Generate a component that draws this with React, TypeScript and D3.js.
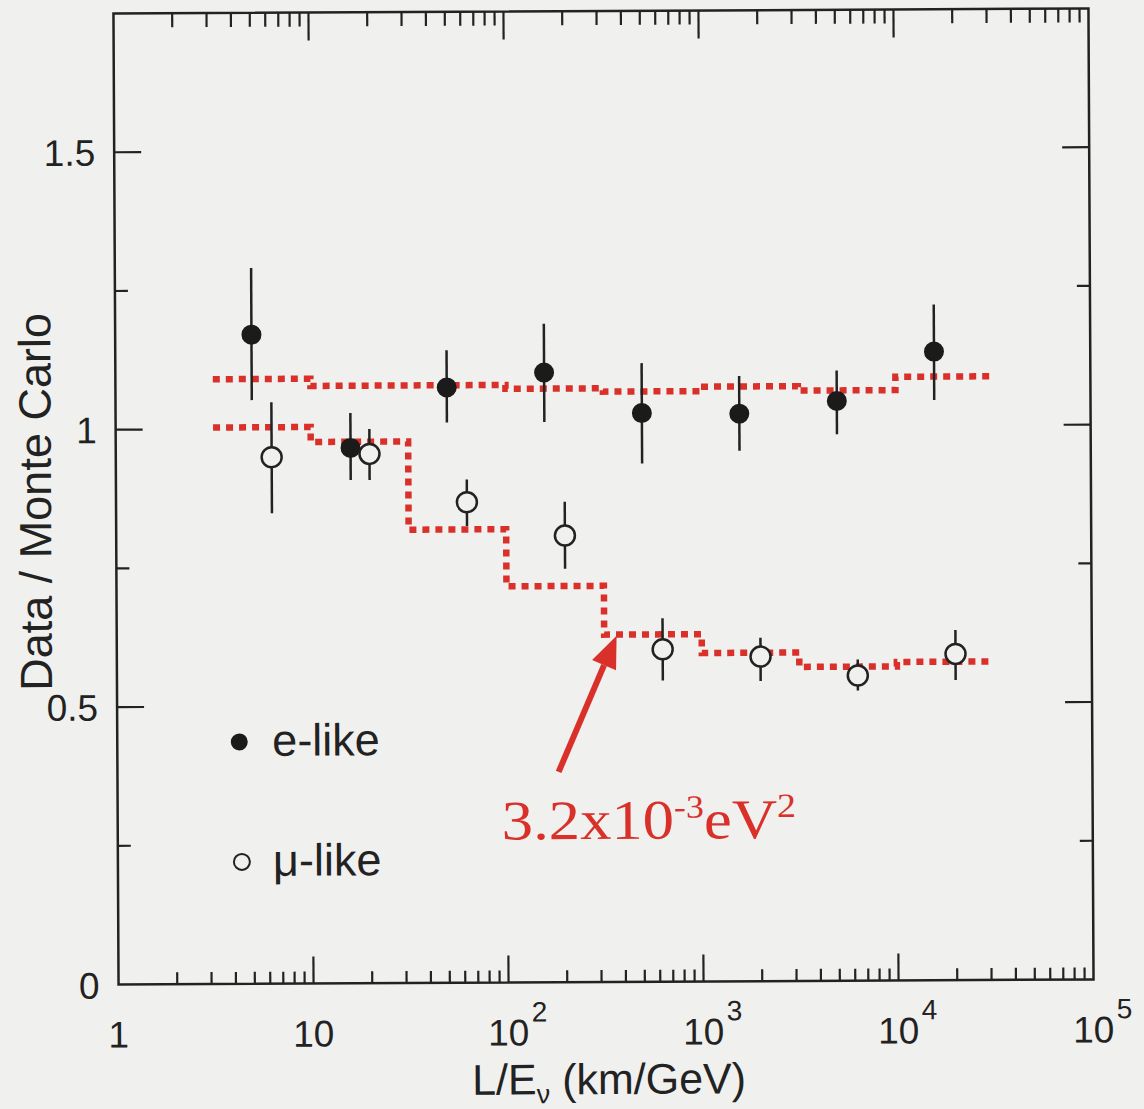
import React, { useRef, useEffect } from "react";
import * as d3 from "d3";

// e-like data: L/E bin centres (km/GeV), ratio and error bar ends
const eLikeLE = [5, 16, 50, 158, 500, 1580, 5000, 15800];
const eLikeVal = [1.17, 0.965, 1.073, 1.099, 1.025, 1.023, 1.045, 1.133];
const eLikeHi = [1.29, 1.028, 1.14, 1.187, 1.115, 1.091, 1.1, 1.218];
const eLikeLo = [1.052, 0.907, 1.01, 1.01, 0.934, 0.956, 0.985, 1.046];

// mu-like data
const muLikeLE = [6.3, 20, 63, 200, 630, 2000, 6300, 20000];
const muLikeVal = [0.949, 0.954, 0.866, 0.805, 0.599, 0.585, 0.55, 0.588];
const muLikeHi = [1.048, 0.999, 0.907, 0.866, 0.655, 0.619, 0.579, 0.631];
const muLikeLo = [0.848, 0.907, 0.823, 0.745, 0.543, 0.541, 0.523, 0.541];

// oscillated MC expectation, half-decade bins
const binEdges = [3.16, 10, 31.6, 100, 316, 1000, 3160, 10000, 31600];
const eLikeMC = [1.09, 1.077, 1.077, 1.07, 1.064, 1.072, 1.064, 1.088];
const muLikeMC = [1.003, 0.976, 0.817, 0.714, 0.626, 0.592, 0.566, 0.574];

const yTicks = [0.5, 1, 1.5];
const yTickLabels = ["0.5", "1", "1.5"];
const yMinorTicks = [0.25, 0.75, 1.25];
const xDecades = [1, 10, 100, 1000, 10000, 100000];
const xTickExps = ["", "", "2", "3", "4", "5"];

// annotation arrow, in data coords [L/E, ratio]
const arrowTail = [183, 0.379];
const arrowTip = [366, 0.624];

export default function App() {
  const svgRef = useRef<SVGSVGElement>(null);

  useEffect(() => {
    const W = 1144;
    const H = 1109;
    const bg = "#f0f0ee";
    const ink = "#222";
    const red = "#d9302a";
    const sans = "'Liberation Sans', Arial, Helvetica, sans-serif";

    const svg = d3.select(svgRef.current).attr("width", W).attr("height", H);
    svg.selectAll("*").remove();

    svg.append("rect").attr("width", W).attr("height", H).attr("fill", bg);

    //scales
    const x = d3.scaleLog().domain([1, 1e5]).range([116, 1091]);
    const y = d3.scaleLinear().domain([0, 1.75]).range([982, 11]);
    const [x0, x1] = x.range();
    const [yb, yt] = y.range();

    // the scan is a touch rotated
    const g = svg.append("g").attr("transform", "rotate(-0.3,603,497)");

    //frame
    g.append("rect")
      .attr("x", x0)
      .attr("y", yt)
      .attr("width", x1 - x0)
      .attr("height", yb - yt)
      .attr("fill", "none")
      .attr("stroke", ink)
      .attr("stroke-width", 2.5);

    //x ticks top and bottom
    const minorX: number[] = [];
    xDecades.slice(0, -1).forEach((d) => {
      for (let k = 2; k <= 9; k++) minorX.push(d * k);
    });
    const tickG = g.append("g").attr("stroke", ink).attr("stroke-width", 2.2);
    minorX.forEach((v) => {
      tickG.append("line").attr("x1", x(v)).attr("x2", x(v)).attr("y1", yb).attr("y2", yb - 12);
      tickG.append("line").attr("x1", x(v)).attr("x2", x(v)).attr("y1", yt).attr("y2", yt + 14);
    });
    xDecades.slice(1, -1).forEach((v) => {
      tickG.append("line").attr("x1", x(v)).attr("x2", x(v)).attr("y1", yb).attr("y2", yb - 27);
      tickG.append("line").attr("x1", x(v)).attr("x2", x(v)).attr("y1", yt).attr("y2", yt + 28);
    });

    //y ticks left and right
    yTicks.forEach((v) => {
      tickG.append("line").attr("x1", x0).attr("x2", x0 + 27).attr("y1", y(v)).attr("y2", y(v));
      tickG.append("line").attr("x1", x1).attr("x2", x1 - 27).attr("y1", y(v)).attr("y2", y(v));
    });
    yMinorTicks.forEach((v) => {
      tickG.append("line").attr("x1", x0).attr("x2", x0 + 13).attr("y1", y(v)).attr("y2", y(v));
      tickG.append("line").attr("x1", x1).attr("x2", x1 - 13).attr("y1", y(v)).attr("y2", y(v));
    });

    //tick labels
    const lab = g.append("g").attr("font-family", sans).attr("fill", ink);
    lab.append("text").attr("x", 97).attr("y", yb + 14).attr("text-anchor", "end").attr("font-size", 37).text("0");
    yTicks.forEach((v, i) => {
      lab.append("text")
        .attr("x", 97)
        .attr("y", y(v))
        .attr("dy", "0.36em")
        .attr("text-anchor", "end")
        .attr("font-size", 37)
        .text(yTickLabels[i]);
    });
    xDecades.forEach((v, i) => {
      const base = i === 0 ? "1" : "10";
      lab.append("text")
        .attr("x", x(v))
        .attr("y", 1045)
        .attr("text-anchor", "middle")
        .attr("font-size", 37)
        .text(base);
      if (xTickExps[i]) {
        lab.append("text")
          .attr("x", x(v) + 23)
          .attr("y", 1021)
          .attr("font-size", 28)
          .text(xTickExps[i]);
      }
    });

    //axis titles
    const xt = lab.append("text")
      .attr("x", 606)
      .attr("y", 1094)
      .attr("text-anchor", "middle")
      .attr("font-size", 43);
    xt.append("tspan").text("L/E");
    xt.append("tspan").attr("font-size", 27).attr("dy", 9).text("ν");
    xt.append("tspan").attr("dy", -9).text(" (km/GeV)");

    lab.append("text")
      .attr("transform", "translate(51,499) rotate(-90)")
      .attr("text-anchor", "middle")
      .attr("font-size", 45)
      .text("Data / Monte Carlo");

    //MC step lines
    const step = d3
      .line<[number, number]>()
      .x((d) => x(d[0]))
      .y((d) => y(d[1]))
      .curve(d3.curveStepAfter);
    [eLikeMC, muLikeMC].forEach((mc) => {
      const pts: [number, number][] = binEdges.map((e, i) => [e, mc[Math.min(i, mc.length - 1)]]);
      g.append("path")
        .attr("d", step(pts))
        .attr("fill", "none")
        .attr("stroke", red)
        .attr("stroke-width", 6.5)
        .attr("stroke-dasharray", "7 6");
    });

    //error bars
    const bars = g.append("g").attr("stroke", ink).attr("stroke-width", 2.5);
    eLikeLE.forEach((v, i) => {
      bars.append("line").attr("x1", x(v)).attr("x2", x(v)).attr("y1", y(eLikeLo[i])).attr("y2", y(eLikeHi[i]));
    });
    muLikeLE.forEach((v, i) => {
      bars.append("line").attr("x1", x(v)).attr("x2", x(v)).attr("y1", y(muLikeLo[i])).attr("y2", y(muLikeHi[i]));
    });

    //markers
    g.selectAll(".e-pt")
      .data(eLikeLE)
      .join("circle")
      .attr("cx", (d) => x(d))
      .attr("cy", (d, i) => y(eLikeVal[i]))
      .attr("r", 10)
      .attr("fill", "#1b1b1b");
    g.selectAll(".mu-pt")
      .data(muLikeLE)
      .join("circle")
      .attr("cx", (d) => x(d))
      .attr("cy", (d, i) => y(muLikeVal[i]))
      .attr("r", 10)
      .attr("fill", bg)
      .attr("stroke", ink)
      .attr("stroke-width", 2.5);

    //legend
    g.append("circle").attr("cx", 238).attr("cy", 740).attr("r", 8.5).attr("fill", "#1b1b1b");
    lab.append("text").attr("x", 271).attr("y", 754).attr("font-size", 45).text("e-like");
    g.append("circle").attr("cx", 240).attr("cy", 860).attr("r", 8).attr("fill", bg).attr("stroke", ink).attr("stroke-width", 2);
    lab.append("text").attr("x", 271).attr("y", 874).attr("font-size", 45).text("μ-like");

    //arrow + annotation
    const tx = x(arrowTail[0]), ty = y(arrowTail[1]);
    const hx = x(arrowTip[0]), hy = y(arrowTip[1]);
    const len = Math.hypot(hx - tx, hy - ty);
    const ux = (hx - tx) / len, uy = (hy - ty) / len;
    const bx = hx - 32 * ux, by = hy - 32 * uy;
    g.append("line")
      .attr("x1", tx).attr("y1", ty).attr("x2", bx).attr("y2", by)
      .attr("stroke", red).attr("stroke-width", 6);
    g.append("polygon")
      .attr("points", [
        [hx, hy],
        [bx - 13 * uy, by + 13 * ux],
        [bx + 13 * uy, by - 13 * ux],
      ].map((p) => p.join(",")).join(" "))
      .attr("fill", red);

    const ann = g.append("text")
      .attr("transform", "translate(500,839) scale(1.12,1)")
      .attr("fill", red)
      .attr("font-family", "'Liberation Serif', 'Times New Roman', serif")
      .attr("font-size", 56);
    ann.append("tspan").text("3.2x10");
    ann.append("tspan").attr("font-size", 32).attr("dy", -21).text("-3");
    ann.append("tspan").attr("dy", 21).text("eV");
    ann.append("tspan").attr("font-size", 34).attr("dy", -21).text("2");
  }, []);

  return (
    <div style={{ position: "absolute", left: 0, top: 0 }}>
      <svg ref={svgRef} style={{ display: "block" }}></svg>
    </div>
  );
}
